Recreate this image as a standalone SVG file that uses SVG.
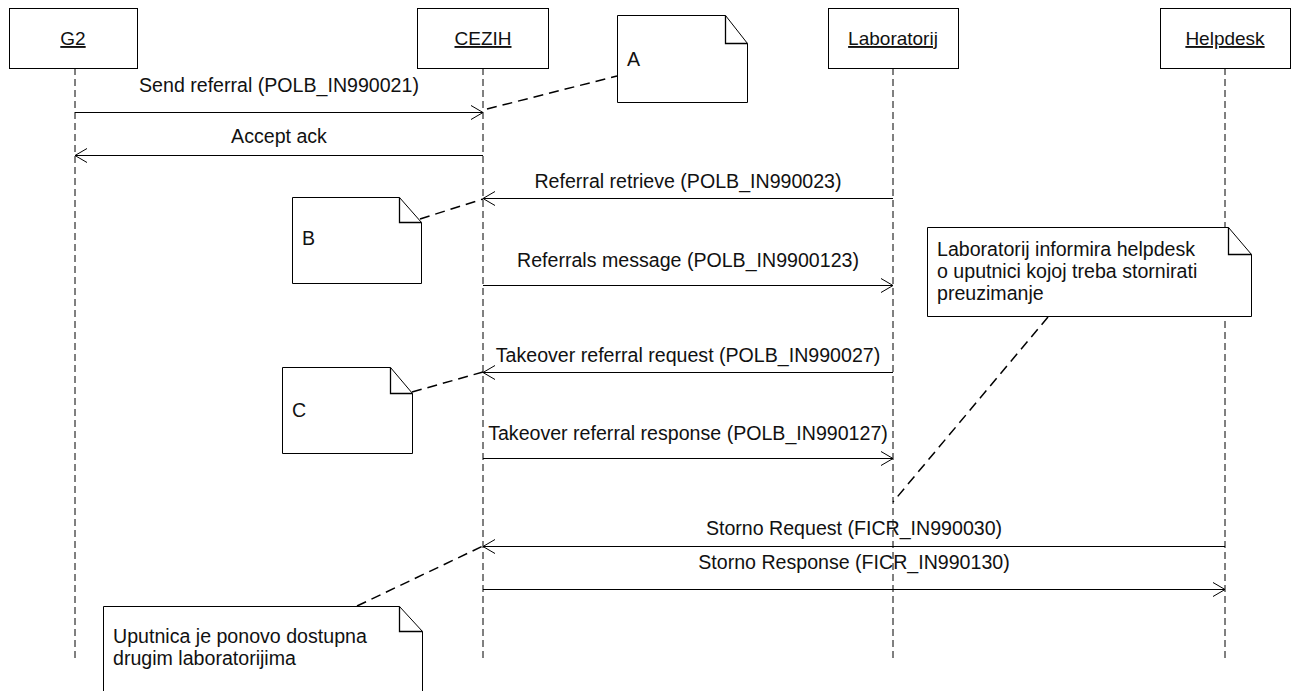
<svg xmlns="http://www.w3.org/2000/svg" width="1296" height="691" viewBox="0 0 1296 691">
<style>
text{font-family:"Liberation Sans",Arial,sans-serif;font-size:19.6px;font-weight:normal;fill:#111}
.box{fill:#fff;stroke:#000;stroke-width:1}
.life{stroke:#000;stroke-width:1;stroke-dasharray:7,4;fill:none}
.msg{stroke:#000;stroke-width:1;fill:none;marker-end:url(#arr)}
.link{stroke:#000;stroke-width:1.5;stroke-dasharray:10,6;fill:none}
.note{fill:#fff;stroke:#000;stroke-width:1}
.fold{fill:none;stroke:#000;stroke-width:1.3}
.lbl{text-anchor:middle}
.head{font-size:19px}
</style>
<defs>
<marker id="arr" markerUnits="userSpaceOnUse" markerWidth="16" markerHeight="18" refX="0" refY="0" viewBox="-14 -9 16 18" orient="auto" overflow="visible">
<path d="M-12,-7 L0,0 L-12,7" fill="none" stroke="#000" stroke-width="1"/>
</marker>
</defs>
<rect width="1296" height="691" fill="#fff"/>
<g id="lifelines">
<line class="life" x1="75" y1="68" x2="75" y2="658"/>
<line class="life" x1="483" y1="68" x2="483" y2="658"/>
<line class="life" x1="893" y1="68" x2="893" y2="658"/>
<line class="life" x1="1225" y1="68" x2="1225" y2="658"/>
</g>
<g id="G2">
<rect class="box" x="9.5" y="8.5" width="128" height="60"/>
<text class="lbl head" x="73" y="45" text-decoration="underline">G2</text>
</g>
<g id="CEZIH">
<rect class="box" x="417.5" y="8.5" width="131" height="60"/>
<text class="lbl head" x="483" y="45" text-decoration="underline">CEZIH</text>
</g>
<g id="Laboratorij">
<rect class="box" x="828.5" y="8.5" width="130" height="60"/>
<text class="lbl head" x="893" y="45" text-decoration="underline">Laboratorij</text>
</g>
<g id="Helpdesk">
<rect class="box" x="1160.5" y="8.5" width="130" height="60"/>
<text class="lbl head" x="1225" y="45" text-decoration="underline">Helpdesk</text>
</g>
<g id="connectors">
<line class="msg" x1="75" y1="112.5" x2="483" y2="112.5"/>
<text class="lbl" x="279" y="92">Send referral (POLB_IN990021)</text>
<line class="msg" x1="483" y1="155.5" x2="75" y2="155.5"/>
<text class="lbl" x="279" y="143">Accept ack</text>
<line class="msg" x1="893" y1="198.5" x2="483" y2="198.5"/>
<text class="lbl" x="688" y="188">Referral retrieve (POLB_IN990023)</text>
<line class="msg" x1="483" y1="285.5" x2="893" y2="285.5"/>
<text class="lbl" x="688" y="267">Referrals message (POLB_IN9900123)</text>
<line class="msg" x1="893" y1="372.5" x2="483" y2="372.5"/>
<text class="lbl" x="688" y="362">Takeover referral request (POLB_IN990027)</text>
<line class="msg" x1="483" y1="458.5" x2="893" y2="458.5"/>
<text class="lbl" x="688" y="440">Takeover referral response (POLB_IN990127)</text>
<line class="msg" x1="1225" y1="546.5" x2="483" y2="546.5"/>
<text class="lbl" x="854" y="535">Storno Request (FICR_IN990030)</text>
<line class="msg" x1="483" y1="589.5" x2="1225" y2="589.5"/>
<text class="lbl" x="854" y="569">Storno Response (FICR_IN990130)</text>
<line class="link" x1="487" y1="109" x2="617" y2="76"/>
<line class="link" x1="420" y1="219" x2="483" y2="199"/>
<line class="link" x1="412" y1="392" x2="483" y2="372"/>
<line class="link" x1="1048" y1="317" x2="893" y2="502"/>
<line class="link" x1="357" y1="606" x2="483" y2="546"/>
</g>
<g id="noteA">
<path class="note" d="M617.5,15.5 H725.5 L747.5,43.5 V102.5 H617.5 Z"/>
<path class="fold" d="M725.5,15.5 V43.5 H747.5"/>
<text x="627" y="66">A</text>
</g>
<g id="noteB">
<path class="note" d="M292.5,197.5 H399.5 L421.5,222.5 V283.5 H292.5 Z"/>
<path class="fold" d="M399.5,197.5 V222.5 H421.5"/>
<text x="302" y="245">B</text>
</g>
<g id="noteC">
<path class="note" d="M282.5,367.5 H390.5 L412.5,393.5 V453.5 H282.5 Z"/>
<path class="fold" d="M390.5,367.5 V393.5 H412.5"/>
<text x="292" y="417">C</text>
</g>
<g id="noteHelpdesk">
<path class="note" d="M927.5,227.5 H1228.5 L1251.5,254.5 V316.5 H927.5 Z"/>
<path class="fold" d="M1228.5,227.5 V254.5 H1251.5"/>
<text x="937" y="256">Laboratorij informira helpdesk</text>
<text x="937" y="278">o uputnici kojoj treba stornirati</text>
<text x="937" y="300">preuzimanje</text>
</g>
<g id="noteUputnica">
<path class="note" d="M103.5,606.5 H399.5 L422.5,631.5 V720 H103.5 Z"/>
<path class="fold" d="M399.5,606.5 V631.5 H422.5"/>
<text x="113" y="643">Uputnica je ponovo dostupna</text>
<text x="113" y="665">drugim laboratorijima</text>
</g>
</svg>
